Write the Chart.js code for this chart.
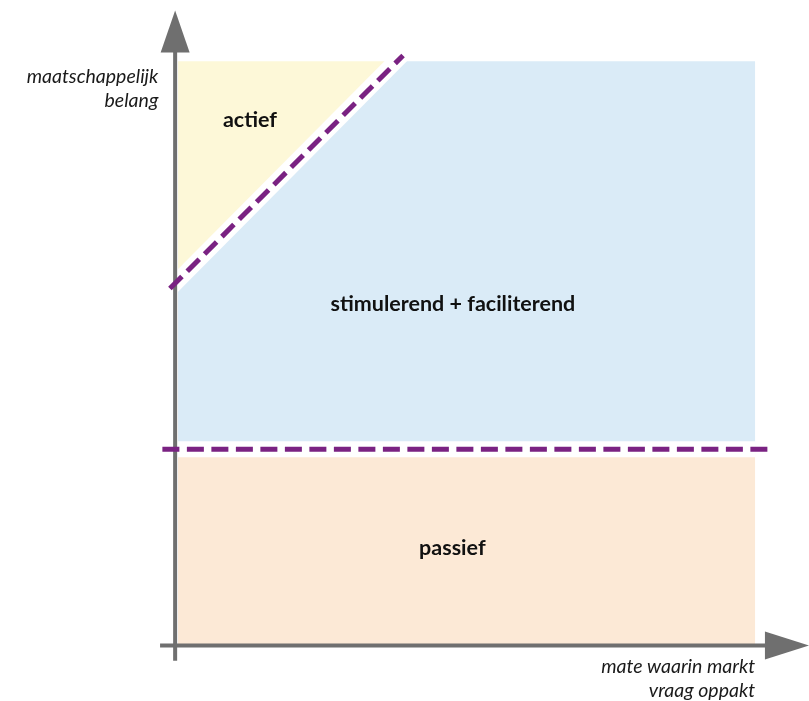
<!DOCTYPE html>
<html lang="nl">
<head>
<meta charset="utf-8">
<script src="https://cdn.jsdelivr.net/npm/chart.js@4.4.1/dist/chart.umd.min.js"></script>
<style>
  html, body { margin: 0; padding: 0; background: #fff; }
  #wrap { width: 809px; height: 701px; }
</style>
</head>
<body>
<div id="wrap"><canvas id="kwadrantChart"></canvas></div>
<script>
// zones in asseenheden (oorsprong = kruispunt van de assen, 0..10 op beide assen)
const passiefZone = [[0.05, 0], [10, 0], [10, 3.36], [0.05, 3.36]];
const stimulerendZone = [[0.05, 3.36], [10, 3.36], [10, 10], [3.8, 10], [0.05, 6.25]];
const actiefZone = [[0.05, 6.25], [3.8, 10], [0.05, 10]];

// grenslijnen
const grensHorizontaal = [[-0.22, 3.36], [10.29, 3.36]];
const grensDiagonaal = [[-0.09, 6.11], [3.93, 10.1]];
const witteMargeHorizontaal = [[0.05, 3.36], [10, 3.36]];
const witteMargeDiagonaal = [[-0.3, 5.9], [4.1, 10.3]];

// assen + pijlpunten
const yAs = [[0, -0.26], [0, 10.2]];
const yPijl = [[-0.25, 10.15], [0.25, 10.15], [0, 10.87]];
const xAs = [[-0.26, 0], [10.2, 0]];
const xPijl = [[10.17, -0.24], [10.17, 0.24], [10.93, 0]];

// teksten
const zoneLabels = ["actief", "stimulerend + faciliterend", "passief"];
const zoneLabelPunten = [[1.29, 8.99], [4.79, 5.84], [4.78, 1.66]];
const yTitel = ["maatschappelijk", "belang"];
const xTitel = ["mate waarin markt", "vraag oppakt"];

const toPts = (arr) => arr.map(([x, y]) => ({ x: x, y: y }));

function vlak(data, kleur, order) {
  return {
    data: toPts(data),
    showLine: true,
    fill: "shape",
    backgroundColor: kleur,
    borderWidth: 0,
    pointRadius: 0,
    tension: 0,
    order: order,
  };
}

function lijn(data, kleur, breedte, order, dash) {
  return {
    data: toPts(data),
    showLine: true,
    fill: false,
    borderColor: kleur,
    borderWidth: breedte,
    borderDash: dash || [],
    borderCapStyle: "butt",
    pointRadius: 0,
    tension: 0,
    order: order,
  };
}

const tekstPlugin = {
  id: "tekstPlugin",
  afterDatasetsDraw(chart) {
    const ctx = chart.ctx;
    const xs = chart.scales.x;
    const ys = chart.scales.y;
    ctx.save();
    ctx.fillStyle = "#111";
    ctx.textBaseline = "middle";
    ctx.textAlign = "center";
    ctx.font = "bold 21.5px Lato, 'Open Sans', sans-serif";
    zoneLabels.forEach((t, i) => {
      const [x, y] = zoneLabelPunten[i];
      ctx.fillText(t, xs.getPixelForValue(x), ys.getPixelForValue(y));
    });

    ctx.font = "italic 19.5px Lato, 'Open Sans', sans-serif";
    ctx.fillStyle = "#1a1a1a";
    ctx.textAlign = "right";
    yTitel.forEach((t, i) => {
      ctx.fillText(t, xs.getPixelForValue(-0.29), ys.getPixelForValue(9.74 - i * 0.41));
    });
    xTitel.forEach((t, i) => {
      ctx.fillText(t, xs.getPixelForValue(10), ys.getPixelForValue(-0.36 - i * 0.41));
    });
    ctx.restore();
  },
};

const grijs = "#6f6f6f";
const paars = "#7a2282";

new Chart(document.getElementById("kwadrantChart"), {
  type: "scatter",
  data: {
    datasets: [
      vlak(passiefZone, "#fce9d6", 10),
      vlak(stimulerendZone, "#daebf7", 10),
      vlak(actiefZone, "#fdf8d8", 10),
      lijn(witteMargeHorizontaal, "#ffffff", 16, 8),
      lijn(witteMargeDiagonaal, "#ffffff", 16, 8),
      lijn(yAs, grijs, 4, 6),
      lijn(xAs, grijs, 4, 6),
      vlak(yPijl, grijs, 5),
      vlak(xPijl, grijs, 5),
      lijn(grensHorizontaal, paars, 5, 1, [17, 7.5]),
      lijn(grensDiagonaal, paars, 5, 1, [17, 7.5]),
    ],
  },
  options: {
    responsive: true,
    maintainAspectRatio: false,
    animation: false,
    clip: false,
    layout: { padding: 0 },
    plugins: {
      legend: { display: false },
      tooltip: { enabled: false },
    },
    scales: {
      x: { type: "linear", min: -3.02, max: 10.93, display: false },
      y: { type: "linear", min: -0.95, max: 11.05, display: false },
    },
  },
  plugins: [tekstPlugin],
});
</script>
</body>
</html>
